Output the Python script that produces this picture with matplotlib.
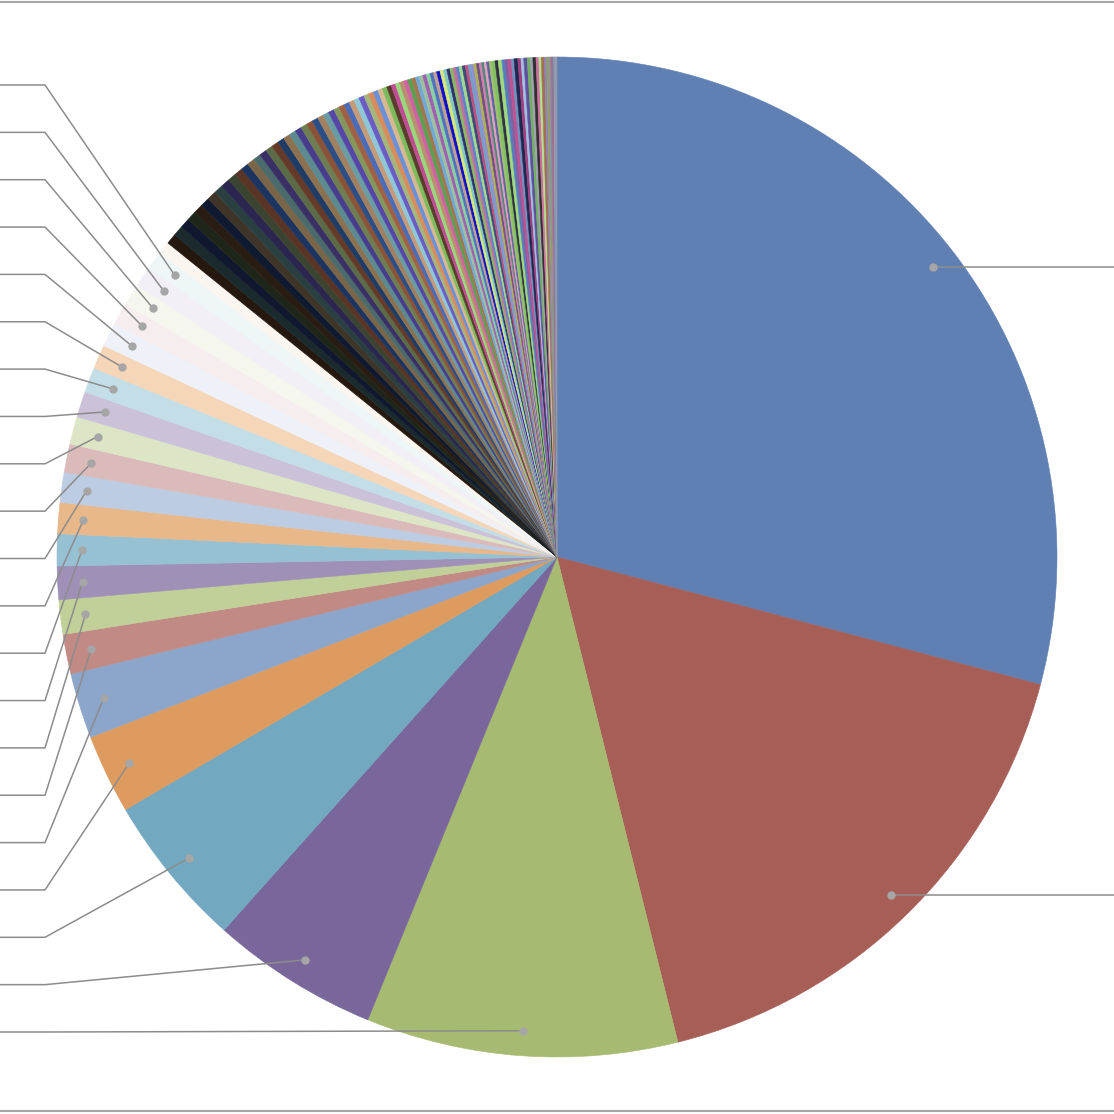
import numpy as np
import matplotlib.pyplot as plt
from matplotlib.lines import Line2D

# shares (%) of the 24 large slices, clockwise from 12 o'clock
main_values = [29.1, 17.0, 10.06, 5.42, 4.97, 2.56,
               2.11, 1.28, 1.11, 1.08, 1.03, 1.00,
               0.97, 0.92, 0.89, 0.83, 0.81, 0.78,
               0.78, 0.72, 0.69, 0.67, 0.61, 0.39]
main_colors = ['#6080b4', '#a65e57', '#a7ba71', '#79679b', '#72a8c0', '#de9b5f',
               '#8ca5cb', '#c18a85', '#c1d098', '#9f90b8', '#96c1d3', '#e8b88a',
               '#bcccE2', '#dbbbba', '#dde5c7', '#cbc2da', '#c3dee6', '#f5d6b9',
               '#eef2f8', '#f6eeee', '#f5f7ee', '#f2eff6', '#eff6f8', '#fbf5ef']

# the long tail of small slices
tail_values = [0.34, 0.33, 0.32, 0.31, 0.31, 0.30, 0.30, 0.29, 0.29, 0.28,
               0.26, 0.25, 0.25, 0.24, 0.24, 0.23, 0.23, 0.22, 0.22, 0.22,
               0.21, 0.21, 0.20, 0.20, 0.20,
               0.19, 0.19, 0.18, 0.18, 0.18, 0.17, 0.17, 0.17, 0.16, 0.16,
               0.16, 0.15, 0.15, 0.15, 0.14, 0.14, 0.14, 0.13, 0.13, 0.13,
               0.12, 0.12, 0.12, 0.12, 0.11, 0.11, 0.11, 0.11, 0.11, 0.10,
               0.10, 0.10, 0.10, 0.10, 0.10, 0.09, 0.09, 0.09, 0.09, 0.09,
               0.08, 0.08, 0.08, 0.08, 0.08,
               0.11, 0.10, 0.12, 0.09, 0.11, 0.10, 0.09, 0.12, 0.10, 0.09,
               0.11, 0.10, 0.08, 0.10, 0.09, 0.08, 0.10, 0.07, 0.08, 0.06,
               0.05, 0.04, 0.03, 0.03, 0.02, 0.02]
tail_colors = ['#24180f', '#1b2a2c', '#101830', '#1e2519', '#291c12', '#0f1a30',
               '#3e3528', '#2a4040', '#2a2650', '#3a4430',
               '#5a3424', '#1c3560', '#7a6548', '#4a6a6c', '#3a3066', '#5b6b48',
               '#653a28', '#1e3c66', '#8c7150', '#5b8a90', '#483c8c', '#6e7e52',
               '#8a5236', '#2c4e86', '#a08060',
               '#6a9ca4', '#5646a8', '#84985e', '#a06044', '#4a6cb8', '#c49a78',
               '#8ec8d8', '#6a5cc4', '#a4b67c', '#d88c5c', '#6a90d8', '#d8b890',
               '#7cbc5c', '#5a3c2c', '#c04c94', '#9ad87c', '#b89070', '#d062a4',
               '#5aa050', '#a07850',
               '#70a8d8', '#9ec0a0', '#a060b0', '#88d0a0', '#5070c0', '#c0a090',
               '#1010c8', '#d8e878', '#80c8c0', '#303070', '#88b860', '#c070a0',
               '#6080c8', '#a0d890', '#404878', '#c05080', '#70a0c8', '#9090d0',
               '#b0b050', '#705080', '#d080b0', '#508878', '#e0a0c0', '#6060a0',
               '#a0c070',
               '#80c060', '#303040', '#a0d880', '#5080c0', '#8060a0', '#c05090',
               '#7090c0', '#202850', '#a04080', '#a0c0e0', '#6050a0', '#70b060',
               '#a0a0b0', '#303030', '#d070a0', '#b0e090', '#a07050', '#9080c0',
               '#90a060', '#8090b0', '#c06080', '#7080a0', '#9aa0b0', '#8a90a8',
               '#a0a4b0', '#9098b0']

n_labeled = 23

values = main_values + tail_values
colors = main_colors + tail_colors

fig = plt.figure(figsize=(11.14, 11.14), dpi=100)
ax = fig.add_axes([0, 0, 1, 1])
wedges, _ = ax.pie(values, colors=colors, startangle=90, counterclock=False,
                   radius=1.0, wedgeprops=dict(linewidth=0.4))
for w in wedges:
    w.set_edgecolor(w.get_facecolor())

# leader lines (labels themselves fall outside the visible area)
line_col = '#8c8c8c'
dot_col = '#a6a6a6'
left_ys = np.linspace(-0.95, 0.944, n_labeled - 2)
for i in range(n_labeled):
    w = wedges[i]
    mid = np.deg2rad((w.theta1 + w.theta2) / 2)
    dx, dy = 0.95 * np.cos(mid), 0.95 * np.sin(mid)
    if i < 2:
        xs, ys = [dx, 1.3], [dy, dy]
    else:
        ly = left_ys[i - 2]
        xs, ys = [dx, -1.024, -1.3], [dy, ly, ly]
    ax.plot(xs, ys, color=line_col, lw=1.1, zorder=5, solid_capstyle='butt')
    ax.plot(dx, dy, 'o', color=dot_col, ms=5, zorder=6)

ax.set_xlim(-1.114, 1.114)
ax.set_ylim(-1.114, 1.114)
ax.set_aspect('equal')
ax.axis('off')

for yf in [1 - 2 / 1114, 1 - 1111 / 1114]:
    fig.add_artist(Line2D([0, 1], [yf, yf], transform=fig.transFigure,
                          color='#a6a6a6', lw=1.5))

fig.savefig('out.png', dpi=100)
